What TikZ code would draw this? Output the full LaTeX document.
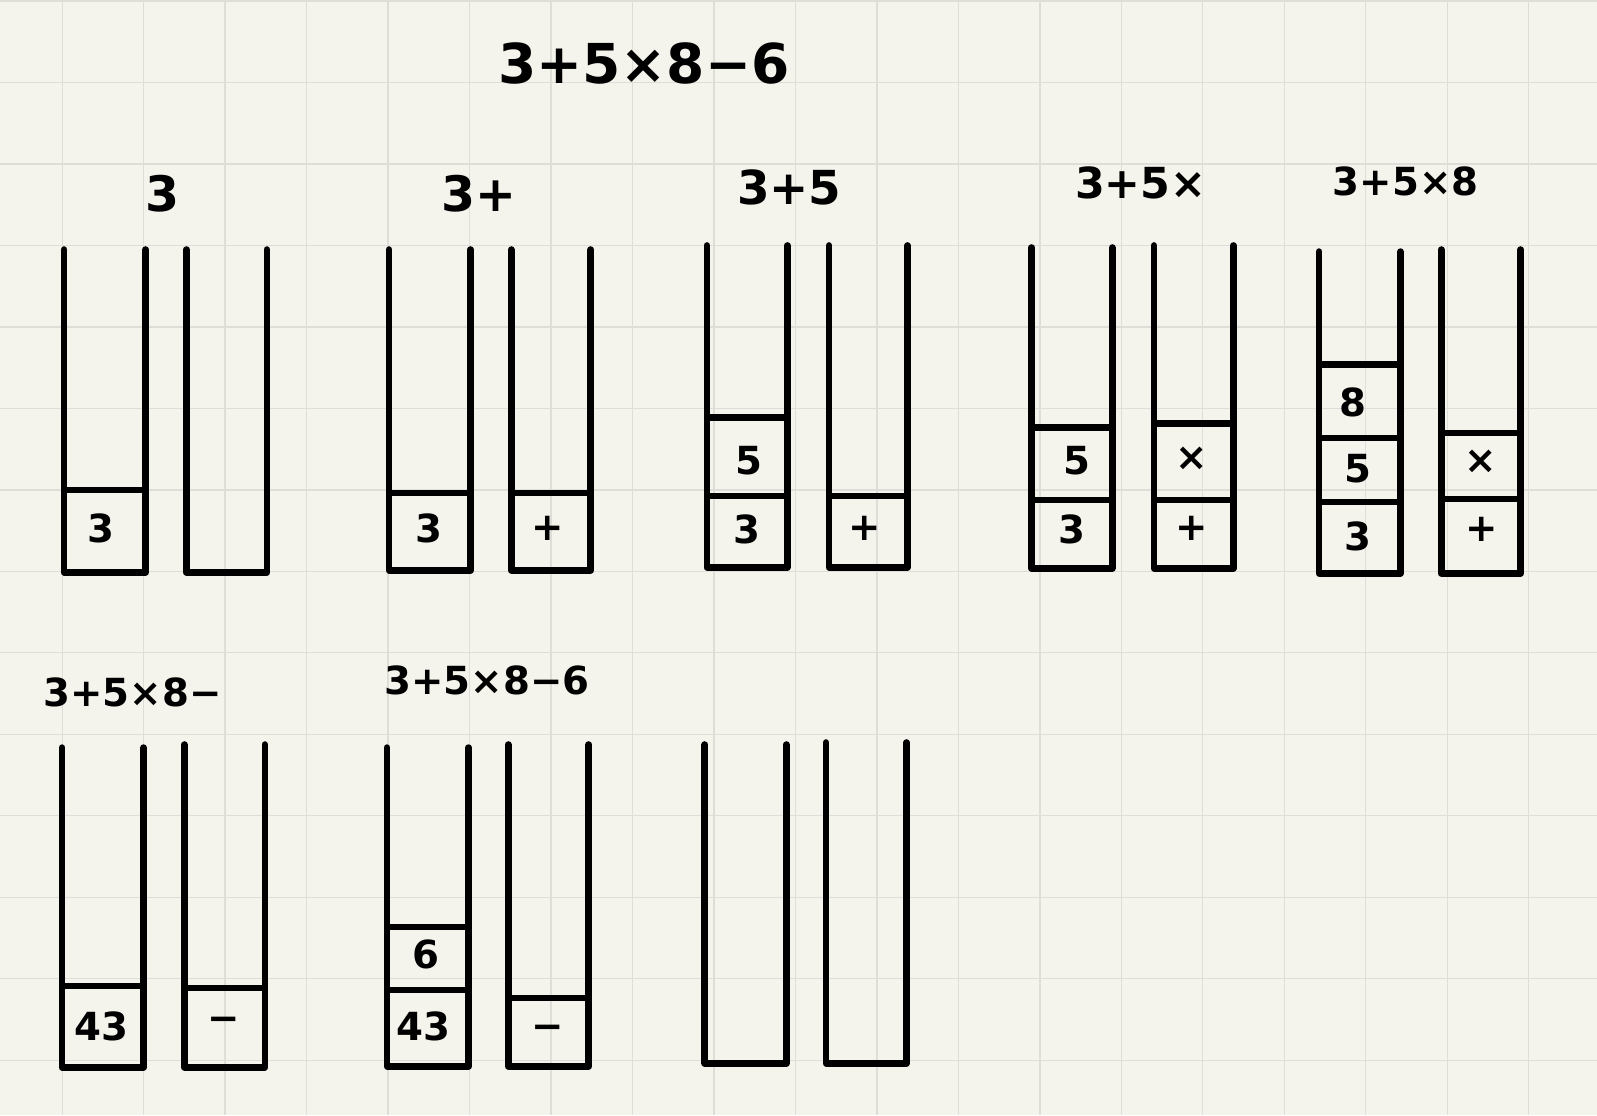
\documentclass[tikz,border=0pt]{standalone}
\usepackage{fontspec}
\setmainfont{DejaVu Sans}
\definecolor{paper}{HTML}{F5F4EC}
\definecolor{gridc}{HTML}{DEDDD8}
\newcommand{\ustk}[4]{\draw[stk] (#1,#2) -- (#1,#4) -- (#3,#4) -- (#3,#2);}
\newcommand{\sep}[3]{\draw[stk] (#1,#3) -- (#2,#3);}
\begin{document}
\begin{tikzpicture}[x=1pt,y=-1pt,
  stk/.style={line width=6.5pt, line cap=round, line join=round, black},
  gridline/.style={gridc, line width=1.2pt},
  ttl/.style={font=\fontsize{54}{60}\selectfont\bfseries, inner sep=0pt},
  hdr/.style={font=\fontsize{48}{52}\selectfont\bfseries, inner sep=0pt},
  cell/.style={font=\fontsize{38}{42}\selectfont\bfseries, inner sep=0pt}]
\fill[paper] (0,0) rectangle (1568,1095);
\useasboundingbox (0,0) rectangle (1568,1095);
\foreach \i in {0,...,18} \draw[gridline] (61+80*\i,0) -- (61+80*\i,1095);
\foreach \j in {0,...,13} \draw[gridline] (0,1+80*\j) -- (1568,1+80*\j);

\node[ttl] (title) at (632,62) {3+5×8−6};

% pair 1
\node[hdr] (h1) at (160,190) {3};
\ustk{63}{245}{143}{562}
\ustk{183}{245}{262}{562}
\sep{65}{141}{481}
\node[cell] (c1a) at (99,519) {3};

% pair 2
\node[hdr] (h2) at (470,190) {3+};
\ustk{382}{245}{462}{560}
\ustk{502}{245}{580}{560}
\sep{384}{460}{484}
\sep{504}{578}{484}
\node[cell] (c2a) at (421,519) {3};
\node[cell] (c2b) at (538,519) {+};

% pair 3
\node[hdr, font=\fontsize{46}{50}\selectfont\bfseries] (h3) at (775,184) {3+5};
\ustk{694}{241}{773}{557}
\ustk{814}{241}{891}{557}
\sep{696}{771}{410}
\sep{696}{771}{487}
\sep{816}{889}{487}
\node[cell] (c3a) at (735,452) {5};
\node[cell] (c3b) at (733,520) {3};
\node[cell] (c3c) at (849,519) {+};

% pair 4
\node[hdr, font=\fontsize{42}{48}\selectfont\bfseries] (h4) at (1120,180) {3+5×};
\ustk{1013}{243}{1092}{558}
\ustk{1133}{241}{1211}{558}
\sep{1015}{1090}{420}
\sep{1015}{1090}{491}
\sep{1135}{1209}{416}
\sep{1135}{1209}{491}
\node[cell] (c4a) at (1057,452) {5};
\node[cell] (c4b) at (1052,520) {3};
\node[cell] (c4c) at (1170,450) {×};
\node[cell] (c4d) at (1170,519) {+};

% pair 5
\node[hdr, font=\fontsize{38}{44}\selectfont\bfseries] (h5) at (1380,178) {3+5×8};
\ustk{1295}{247}{1375}{563}
\ustk{1415}{245}{1493}{563}
\sep{1297}{1373}{358}
\sep{1297}{1373}{430}
\sep{1297}{1373}{493}
\sep{1417}{1491}{425}
\sep{1417}{1491}{490}
\node[cell] (c5a) at (1328,395) {8};
\node[cell] (c5b) at (1333,460) {5};
\node[cell] (c5c) at (1333,527) {3};
\node[cell] (c5d) at (1454,453) {×};
\node[cell] (c5e) at (1455,520) {+};

% pair 6
\node[hdr, font=\fontsize{38}{44}\selectfont\bfseries] (h6) at (130,680) {3+5×8−};
\ustk{61}{734}{141}{1048}
\ustk{181}{731}{260}{1048}
\sep{63}{139}{968}
\sep{183}{258}{970}
\node[cell] (c6a) at (100,1008) {43};
\node[cell] (c6b) at (220,1006) {−};

% pair 7
\node[hdr, font=\fontsize{38}{44}\selectfont\bfseries] (h7) at (478,668) {3+5×8−6};
\ustk{380}{734}{460}{1047}
\ustk{499}{731}{578}{1047}
\sep{382}{458}{910}
\sep{382}{458}{972}
\sep{501}{576}{980}
\node[cell] (c7a) at (418,937) {6};
\node[cell] (c7b) at (416,1008) {43};
\node[cell] (c7c) at (538,1014) {−};

% pair 8
\ustk{692}{731}{772}{1044}
\ustk{811}{729}{890}{1044}
\end{tikzpicture}
\end{document}
